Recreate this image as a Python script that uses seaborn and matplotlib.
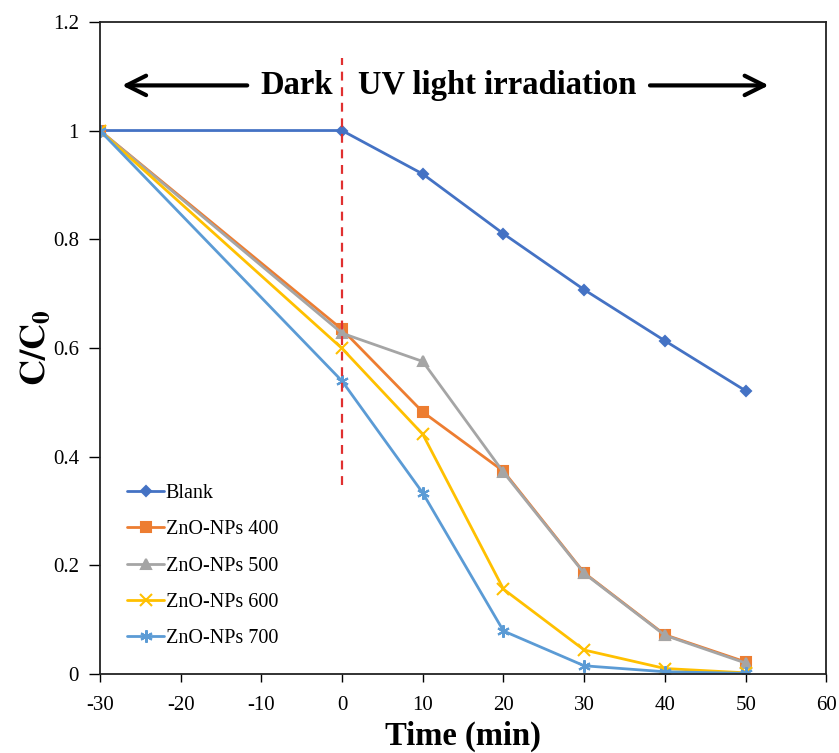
import pandas as pd
import numpy as np
import matplotlib
matplotlib.use("Agg")
import matplotlib.pyplot as plt
import seaborn as sns

time_min = [-30, 0, 10, 20, 30, 40, 50]
blank = [1.0, 1.0, 0.920, 0.810, 0.707, 0.613, 0.521]
zno_400 = [1.0, 0.634, 0.482, 0.373, 0.186, 0.072, 0.022]
zno_500 = [1.0, 0.627, 0.575, 0.371, 0.185, 0.071, 0.020]
zno_600 = [1.0, 0.599, 0.441, 0.156, 0.044, 0.010, 0.002]
zno_700 = [1.0, 0.539, 0.333, 0.079, 0.015, 0.004, 0.001]

series_names = ["Blank", "ZnO-NPs 400", "ZnO-NPs 500", "ZnO-NPs 600", "ZnO-NPs 700"]
series_values = [blank, zno_400, zno_500, zno_600, zno_700]
colors = ["#4472C4", "#ED7D31", "#A5A5A5", "#FFC000", "#5B9BD5"]
markers = ["D", "s", "^", "x", (6, 2, 0)]
marker_sizes = [5, 7, 7, 8, 9]

df = pd.concat(
    [pd.DataFrame({"time": time_min, "ratio": vals, "sample": name})
     for name, vals in zip(series_names, series_values)],
    ignore_index=True,
)

sns.set_style("white")
plt.rcParams["font.family"] = ["Liberation Serif", "DejaVu Serif"]
plt.rcParams["mathtext.fontset"] = "stix"
plt.rcParams["axes.unicode_minus"] = False
plt.rcParams["text.color"] = "black"
plt.rcParams["axes.labelcolor"] = "black"

fig = plt.figure(figsize=(8.39, 7.53), dpi=100)
ax = fig.add_axes([0.119, 0.105, 0.866, 0.866])

for name, color, mk, ms in zip(series_names, colors, markers, marker_sizes):
    sub = df[df["sample"] == name]
    sns.lineplot(
        data=sub, x="time", y="ratio", ax=ax, color=color, label=name,
        marker=mk, markersize=ms, markeredgecolor=color, markeredgewidth=1.5,
        linewidth=2,
    )

# dark / light boundary
ax.plot([0, 0], [0.347, 1.134], color="#E03030", linestyle=(0, (4, 3)), linewidth=1.6)

ax.annotate("", xy=(-27.6, 1.083), xytext=(-11.4, 1.083),
            arrowprops=dict(arrowstyle="->,head_length=0.7,head_width=0.35",
                            color="black", lw=3, mutation_scale=20))
ax.annotate("", xy=(53.2, 1.083), xytext=(37.8, 1.083),
            arrowprops=dict(arrowstyle="->,head_length=0.7,head_width=0.35",
                            color="black", lw=3, mutation_scale=20))
ax.text(-1.1, 1.083, "Dark", ha="right", va="center", fontsize=23.5,
        fontweight="bold", color="black")
ax.text(2.0, 1.083, "UV light irradiation", ha="left", va="center", fontsize=23.5,
        fontweight="bold", color="black")

ax.set_xlim(-30, 60)
ax.set_ylim(0, 1.2)
ax.set_xticks(range(-30, 61, 10))
ax.set_yticks([0, 0.2, 0.4, 0.6, 0.8, 1.0, 1.2])
ax.set_yticklabels(["0", "0.2", "0.4", "0.6", "0.8", "1", "1.2"])
ax.tick_params(axis="both", direction="out", width=1, labelsize=15,
               bottom=True, left=True, colors="black")
ax.tick_params(axis="x", length=6, pad=10)
ax.tick_params(axis="y", length=8, pad=7)
for sp in ax.spines.values():
    sp.set_color("#222222")
    sp.set_linewidth(1.3)

ax.set_xlabel("Time (min)", fontsize=23.5, fontweight="bold", labelpad=4)
ax.set_ylabel(r"$\mathbf{C/C_0}$", fontsize=26, labelpad=0)

leg = ax.legend(loc="lower left", bbox_to_anchor=(0.013, 0.012), frameon=False, fontsize=14.5,
                handlelength=1.8, handletextpad=0.1, labelspacing=0.85)
for t in leg.get_texts():
    t.set_color("black")

fig.savefig("out.png", dpi=100)
